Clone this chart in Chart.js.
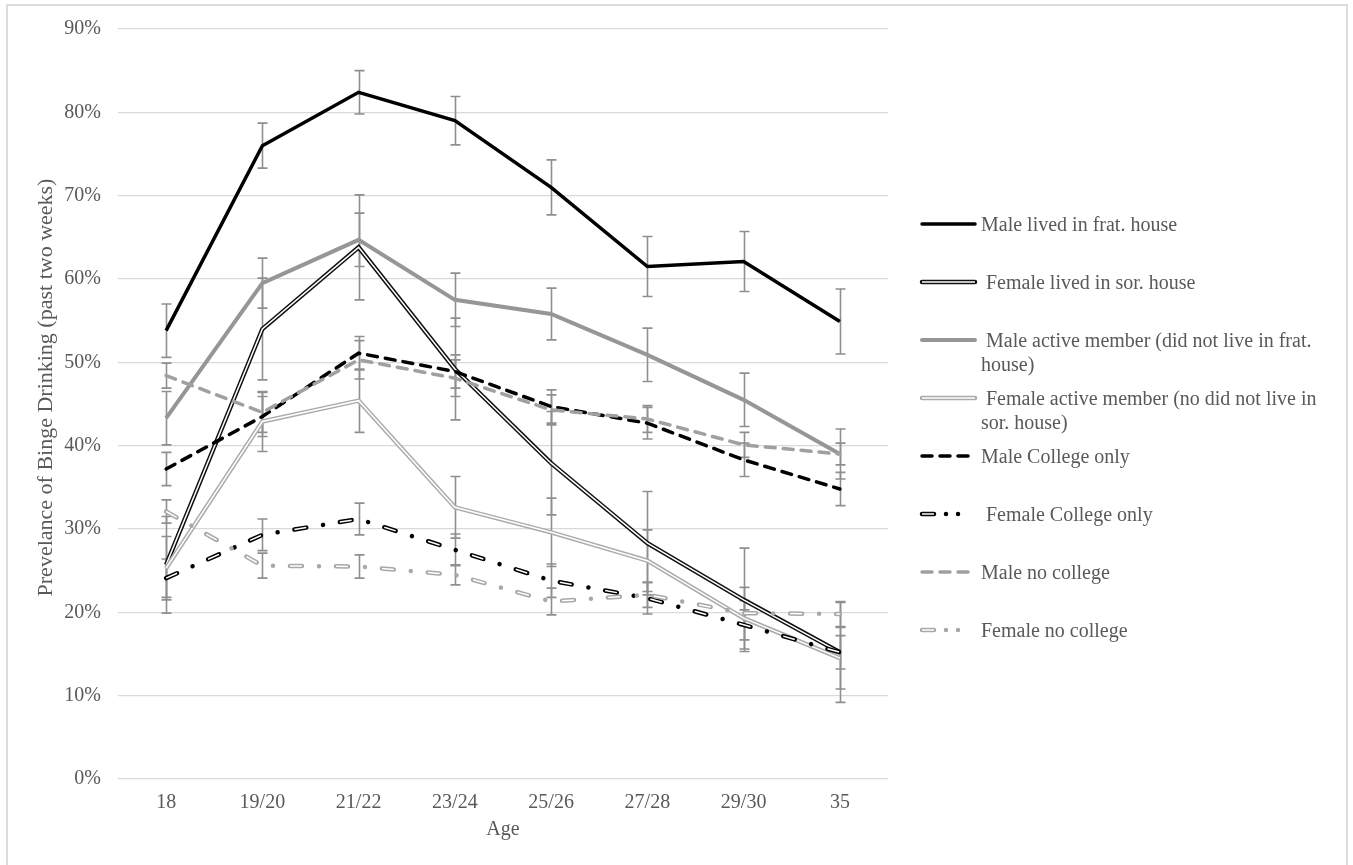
<!DOCTYPE html>
<html><head><meta charset="utf-8">
<script src="https://cdn.jsdelivr.net/npm/chart.js@4"></script>
<style>
html,body{margin:0;padding:0;background:#fff;}
#wrap{position:relative;width:1353px;height:865px;overflow:hidden;background:#fff;}
#frame{position:absolute;left:6px;top:4px;width:1342px;height:900px;border:2px solid #dcdcdc;box-sizing:border-box;}
#c{position:absolute;left:0;top:0;}
.lg{position:absolute;left:918px;height:24px;width:430px;}
.lg canvas{position:absolute;left:0;top:0;}
.lg span{position:absolute;left:63px;top:0;white-space:pre;font:20px/24px "Liberation Serif","Times New Roman",serif;color:#595959;}
</style></head><body>
<div id="wrap"><div id="frame"></div><canvas id="c" width="1353" height="865"></canvas><div id="legend"></div></div>
<script>
// ---- data ----
const ages = ['18', '19/20', '21/22', '23/24', '25/26', '27/28', '29/30', '35'];
const yTickValues = [0, 10, 20, 30, 40, 50, 60, 70, 80, 90];

const maleFrat        = [53.8, 76.0, 82.4, 79.0, 71.0, 61.5, 62.1, 54.9];
const femaleSor       = [25.7, 54.0, 63.8, 49.2, 37.9, 28.3, 21.5, 15.2];
const maleActive      = [43.3, 59.5, 64.7, 57.5, 55.8, 50.9, 45.5, 39.0];
const femaleActive    = [25.3, 42.9, 45.4, 32.6, 29.6, 26.2, 19.3, 14.5];
const maleCollege     = [37.2, 43.5, 51.1, 48.9, 44.7, 42.7, 38.3, 34.8];
const femaleCollege   = [24.1, 29.3, 31.2, 27.5, 23.8, 21.7, 18.5, 15.2];
const maleNoCollege   = [48.4, 44.0, 50.3, 48.1, 44.3, 43.2, 40.1, 39.0];
const femaleNoCollege = [32.1, 25.6, 25.5, 24.5, 21.3, 22.1, 19.9, 19.8];

const errMaleFrat        = [3.2, 2.7, 2.6, 2.9, 3.3, 3.6, 3.6, 3.9];
const errFemaleSor       = [5.8, 6.1, 6.3, 6.1, 6.2, 6.2, 6.2, 6.0];
const errMaleActive      = [3.2, 3.0, 3.2, 3.2, 3.1, 3.2, 3.2, 3.0];
const errFemaleActive    = [3.8, 3.6, 3.8, 3.7, 4.1, 3.7, 3.7, 3.7];
const errMaleCollege     = [2.0, 2.4, 2.0, 2.0, 2.0, 1.9, 2.0, 2.0];
const errFemaleCollege   = [2.3, 1.9, 1.9, 1.9, 2.0, 1.9, 1.8, 2.0];
const errMaleNoCollege   = [1.5, 2.4, 2.3, 2.2, 1.8, 1.6, 1.5, 1.3];
const errFemaleNoCollege = [1.4, 1.5, 1.4, 1.2, 1.6, 1.5, 1.5, 1.5];

const seriesNames = [
  'Male lived in frat. house',
  ' Female lived in sor. house',
  ' Male active member (did not live in frat.\nhouse)',
  ' Female active member (no did not live in\nsor. house)',
  'Male College only',
  ' Female College only',
  'Male no college',
  'Female no college'
];
const seriesValues = [maleFrat, femaleSor, maleActive, femaleActive, maleCollege, femaleCollege, maleNoCollege, femaleNoCollege];
const seriesErr = [errMaleFrat, errFemaleSor, errMaleActive, errFemaleActive, errMaleCollege, errFemaleCollege, errMaleNoCollege, errFemaleNoCollege];

// ---- styles ----
const TEXT = '#595959';
const FONT = '"Liberation Serif", "Times New Roman", serif';
const styles = [
  {color:'#000000', width:3.5},
  {color:'#111111', width:4.5, inner:'#ffffff', innerWidth:1.5},
  {color:'#969696', width:4},
  {color:'#ababab', width:4.5, inner:'#ffffff', innerWidth:1.5},
  {color:'#000000', width:3.5, dash:[10,8], cap:'round'},
  {color:'#000000', width:4.5, dash:[12,17,0.01,17], cap:'round', inner:'#ffffff', innerWidth:1.5, innerDash:[12,34.01], legendDash:[12,12,0.01,12,0.01,60], legendInnerDash:[12,60]},
  {color:'#a0a0a0', width:3.5, dash:[10,8], cap:'round'},
  {color:'#a8a8a8', width:4.5, dash:[12,17,0.01,17], cap:'round', inner:'#ffffff', innerWidth:1.5, innerDash:[12,34.01], legendDash:[12,12,0.01,12,0.01,60], legendInnerDash:[12,60]}
];

const errorBarPlugin = {
  id:'errorBars',
  beforeDatasetsDraw(chart){
    const ctx = chart.ctx, y = chart.scales.y;
    ctx.save();
    ctx.strokeStyle = '#8f8f8f';
    ctx.lineWidth = 1.6;
    ctx.setLineDash([]);
    chart.data.datasets.forEach((ds, i) => {
      const meta = chart.getDatasetMeta(i);
      (ds.err || []).forEach((e, j) => {
        const p = meta.data[j]; if (!p) return;
        const x = Math.round(p.x) + 0.5;
        const yt = y.getPixelForValue(ds.data[j] + e);
        const yb = y.getPixelForValue(ds.data[j] - e);
        ctx.beginPath();
        ctx.moveTo(x, yt); ctx.lineTo(x, yb);
        ctx.moveTo(x - 5, yt); ctx.lineTo(x + 5, yt);
        ctx.moveTo(x - 5, yb); ctx.lineTo(x + 5, yb);
        ctx.stroke();
      });
    });
    ctx.restore();
  }
};

const innerLinePlugin = {
  id:'innerLine',
  afterDatasetDraw(chart, args){
    const ds = chart.data.datasets[args.index];
    if (!ds.innerColor) return;
    const ctx = chart.ctx, pts = args.meta.data;
    ctx.save();
    ctx.beginPath();
    pts.forEach((p, k) => k ? ctx.lineTo(p.x, p.y) : ctx.moveTo(p.x, p.y));
    ctx.strokeStyle = ds.innerColor;
    ctx.lineWidth = ds.innerWidth;
    ctx.setLineDash(ds.innerDash || []);
    ctx.lineCap = 'butt';
    ctx.lineJoin = 'miter';
    ctx.stroke();
    ctx.restore();
  }
};

const datasets = seriesValues.map((vals, i) => {
  const s = styles[i];
  return {
    label: seriesNames[i].trim().replace('\n', ' '),
    data: vals,
    err: seriesErr[i],
    borderColor: s.color,
    backgroundColor: s.color,
    borderWidth: s.width,
    borderDash: s.dash || [],
    borderCapStyle: s.cap || 'butt',
    borderJoinStyle: 'miter',
    pointRadius: 0,
    pointHoverRadius: 0,
    tension: 0,
    fill: false,
    order: -i,
    innerColor: s.inner,
    innerWidth: s.innerWidth,
    innerDash: s.innerDash
  };
});

new Chart(document.getElementById('c'), {
  type: 'line',
  data: { labels: ages, datasets },
  options: {
    responsive: false,
    animation: false,
    devicePixelRatio: 1,
    layout: { padding: { left: 0, right: 465, top: 29, bottom: 0 } },
    plugins: { legend: { display: false }, tooltip: { enabled: false } },
    scales: {
      x: {
        offset: true,
        grid: { display: false },
        border: { display: false },
        ticks: { color: TEXT, font: { family: FONT, size: 20 }, padding: 4, maxRotation: 0 },
        title: { display: true, text: 'Age', color: TEXT, font: { family: FONT, size: 20 }, padding: { top: 0, bottom: 23 } },
        afterFit(s) { s.height = 86; }
      },
      y: {
        min: 0, max: 90,
        afterBuildTicks(s) { s.ticks = yTickValues.map(v => ({ value: v })); },
        ticks: { color: TEXT, font: { family: FONT, size: 20 }, padding: 17, callback: v => v + '%' },
        grid: { color: '#d9d9d9', lineWidth: 1.3, drawTicks: false },
        border: { display: false },
        title: { display: true, text: '      Prevelance of Binge Drinking (past two weeks)', color: TEXT, font: { family: FONT, size: 22 }, padding: { top: 33, bottom: 0 } },
        afterFit(s) { s.width = 118; }
      }
    }
  },
  plugins: [errorBarPlugin, innerLinePlugin]
});

// ---- HTML legend ----
const legend = document.getElementById('legend');
seriesNames.forEach((name, i) => {
  const s = styles[i];
  const item = document.createElement('div');
  item.className = 'lg';
  item.style.top = (212 + i * 58) + 'px';
  const cv = document.createElement('canvas');
  cv.width = 62; cv.height = 24;
  const c = cv.getContext('2d');
  c.beginPath(); c.moveTo(4, 12); c.lineTo(57, 12);
  c.strokeStyle = s.color; c.lineWidth = s.width;
  c.setLineDash(s.legendDash || s.dash || []);
  c.lineCap = s.cap || 'round';
  c.stroke();
  if (s.inner) {
    c.beginPath(); c.moveTo(4, 12); c.lineTo(57, 12);
    c.strokeStyle = s.inner; c.lineWidth = s.innerWidth;
    c.setLineDash(s.legendInnerDash || s.innerDash || []);
    c.lineCap = 'butt';
    c.stroke();
  }
  const sp = document.createElement('span');
  sp.textContent = name;
  item.appendChild(cv); item.appendChild(sp);
  legend.appendChild(item);
});
</script>
</body></html>
